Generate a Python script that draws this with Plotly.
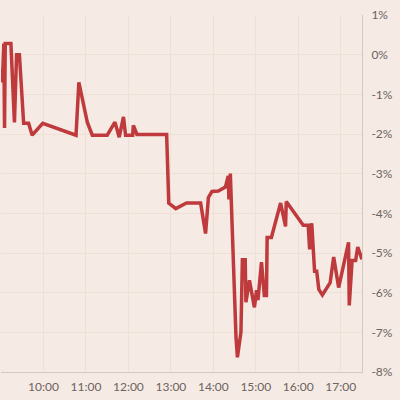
import plotly.graph_objects as go

DAY = "2024-01-02"

times = ["09:00", "09:02", "09:04", "09:05", "09:06", "09:14", "09:19", "09:22", "09:26",
         "09:32", "09:39", "09:44", "09:59", "10:46", "10:50", "11:02", "11:09", "11:30",
         "11:41", "11:47", "11:53", "11:56", "12:06", "12:07", "12:12", "12:54", "12:57",
         "13:07", "13:22", "13:42", "13:49", "13:53", "13:58", "14:07", "14:17", "14:21",
         "14:22", "14:24", "14:32", "14:34", "14:39", "14:41", "14:45", "14:46", "14:51",
         "14:58", "15:01", "15:03", "15:08", "15:12", "15:15", "15:16", "15:22", "15:35",
         "15:42", "15:43", "16:07", "16:14", "16:16", "16:19", "16:23", "16:26", "16:29",
         "16:34", "16:45", "16:50", "16:57", "17:11", "17:12", "17:16", "17:21", "17:24",
         "17:30"]

change_pct = [-0.35, -0.70, 0.28, -1.85, 0.28, 0.28, -1.71, 0.00, 0.00,
              -1.73, -1.73, -2.03, -1.73, -2.03, -0.70, -1.71, -2.03, -2.03,
              -1.70, -2.08, -1.57, -2.03, -2.03, -1.78, -2.01, -2.01, -3.74,
              -3.88, -3.74, -3.74, -4.51, -3.60, -3.45, -3.44, -3.34, -3.06,
              -3.65, -3.00, -7.12, -7.63, -6.99, -5.17, -5.17, -6.24, -5.69,
              -6.37, -5.94, -6.19, -5.23, -6.07, -6.07, -4.61, -4.61, -3.74,
              -4.33, -3.70, -4.30, -4.30, -4.91, -4.25, -5.46, -5.46, -5.92,
              -6.06, -5.75, -5.10, -5.87, -4.73, -6.32, -5.19, -5.19, -4.85,
              -5.16]

x_tick_times = ["10:00", "11:00", "12:00", "13:00", "14:00", "15:00", "16:00", "17:00"]
y_tick_vals = [1, 0, -1, -2, -3, -4, -5, -6, -7, -8]
y_tick_text = ["1%", "0%", "-1%", "-2%", "-3%", "-4%", "-5%", "-6%", "-7%", "-8%"]

BG = "#f6eae4"
GRID = "#eee0d5"
AXIS = "#d3c8c2"
TXT = "#6b6461"

x = [f"{DAY} {t}" for t in times]

fig = go.Figure()
fig.add_trace(go.Scatter(
    x=x, y=change_pct, mode="lines",
    line=dict(color="#be3a3c", width=3.5),
    hoverinfo="skip", showlegend=False,
))

fig.update_layout(
    width=400, height=400,
    margin=dict(l=1, r=38, t=15, b=28),
    paper_bgcolor=BG, plot_bgcolor=BG,
    font=dict(family="Lato, sans-serif", size=12, color=TXT),
)
fig.update_xaxes(
    type="date",
    range=[f"{DAY} 09:00", f"{DAY} 17:30"],
    tickvals=[f"{DAY} {t}" for t in x_tick_times],
    ticktext=x_tick_times,
    showgrid=True, gridcolor=GRID, gridwidth=1,
    showline=True, linecolor=AXIS, linewidth=1,
    ticks="", zeroline=False,
    ticklabelstandoff=4,
    tickfont=dict(size=12, color=TXT),
)
fig.update_yaxes(
    side="right",
    range=[-8, 1],
    tickvals=y_tick_vals, ticktext=y_tick_text,
    showgrid=True, gridcolor=GRID, gridwidth=1,
    showline=True, linecolor=AXIS, linewidth=1,
    ticks="", zeroline=False,
    ticklabelstandoff=6,
    tickfont=dict(size=12, color=TXT),
)

fig.write_html(
    "out.html",
    config={"displayModeBar": False},
    post_script="document.body.style.margin='0px';document.body.style.background='" + BG + "';",
)
